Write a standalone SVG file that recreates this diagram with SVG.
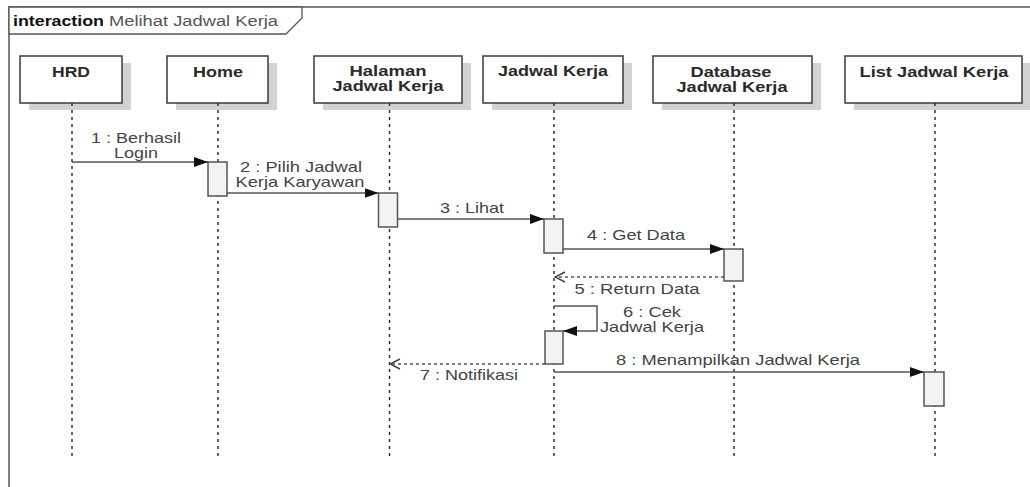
<svg xmlns="http://www.w3.org/2000/svg" width="1030" height="487" viewBox="0 0 1030 487">
  <style>
    .frame { fill: none; stroke: #555; stroke-width: 1.5; }
    .tab { fill: #fff; stroke: #555; stroke-width: 1.3; }
    .shadow { fill: #d2d2d2; }
    .head { fill: #fff; stroke: #3a3a3a; stroke-width: 1.5; }
    .hname { font-family: "Liberation Sans", Arial, sans-serif; font-size: 15px; font-weight: bold; fill: #2a2a2a; text-anchor: middle; }
    .life { stroke: #333; stroke-width: 1.5; stroke-dasharray: 3 4; fill: none; }
    .act { fill: #f3f3f3; stroke: #555; stroke-width: 1.5; }
    .msg { stroke: #555; stroke-width: 1.5; fill: none; }
    .ret { stroke: #555; stroke-width: 1.5; fill: none; stroke-dasharray: 3 3; }
    .lbl { font-family: "Liberation Sans", Arial, sans-serif; font-size: 15px; fill: #444; text-anchor: middle; }
    .kw { font-family: "Liberation Sans", Arial, sans-serif; font-size: 14px; font-weight: bold; fill: #111; }
    .title { font-family: "Liberation Sans", Arial, sans-serif; font-size: 14px; fill: #555; }
  </style>
  <defs>
    <marker id="sync" markerUnits="userSpaceOnUse" markerWidth="14" markerHeight="10" refX="14" refY="5" orient="auto">
      <path d="M0,0 L14,5 L0,10 z" fill="#111"/>
    </marker>
    <marker id="open" markerUnits="userSpaceOnUse" markerWidth="12" markerHeight="12" refX="11" refY="6" orient="auto">
      <path d="M1,1 L11,6 L1,11" fill="none" stroke="#444" stroke-width="1.4"/>
    </marker>
  </defs>

  <rect width="1030" height="487" fill="#fff"/>

  <!-- interaction frame -->
  <g id="frame">
    <rect class="frame" x="9" y="7" width="1040" height="500"/>
    <path class="tab" d="M9,7 L302,7 L302,18 L286,34 L9,34 z"/>
    <text class="kw" x="13" y="26" textLength="91" lengthAdjust="spacingAndGlyphs">interaction</text>
    <text class="title" x="109" y="26" textLength="169" lengthAdjust="spacingAndGlyphs">Melihat Jadwal Kerja</text>
  </g>

  <!-- lifelines -->
  <g id="hrd">
    <rect class="shadow" x="29" y="63" width="102" height="47"/>
    <rect class="head" x="20" y="56" width="102" height="47"/>
    <text class="hname" x="71" y="77" textLength="38" lengthAdjust="spacingAndGlyphs">HRD</text>
    <line class="life" x1="72" y1="103" x2="72" y2="460"/>
  </g>
  <g id="home">
    <rect class="shadow" x="176" y="63" width="101" height="47"/>
    <rect class="head" x="167" y="56" width="101" height="47"/>
    <text class="hname" x="218" y="77" textLength="50" lengthAdjust="spacingAndGlyphs">Home</text>
    <line class="life" x1="218" y1="103" x2="218" y2="460"/>
  </g>
  <g id="halaman-jadwal-kerja">
    <rect class="shadow" x="323" y="63" width="148" height="47"/>
    <rect class="head" x="314" y="56" width="148" height="47"/>
    <text class="hname" x="388" y="75.5" textLength="77" lengthAdjust="spacingAndGlyphs">Halaman</text>
    <text class="hname" x="388" y="90.5" textLength="111" lengthAdjust="spacingAndGlyphs">Jadwal Kerja</text>
    <line class="life" x1="389.5" y1="103" x2="389.5" y2="460"/>
  </g>
  <g id="jadwal-kerja">
    <rect class="shadow" x="492" y="63" width="140" height="47"/>
    <rect class="head" x="483" y="56" width="140" height="47"/>
    <text class="hname" x="553" y="76" textLength="110" lengthAdjust="spacingAndGlyphs">Jadwal Kerja</text>
    <line class="life" x1="554" y1="103" x2="554" y2="460"/>
  </g>
  <g id="database-jadwal-kerja">
    <rect class="shadow" x="662" y="63" width="159" height="47"/>
    <rect class="head" x="653" y="56" width="159" height="47"/>
    <text class="hname" x="731" y="76.5" textLength="81" lengthAdjust="spacingAndGlyphs">Database</text>
    <text class="hname" x="732" y="91.5" textLength="111" lengthAdjust="spacingAndGlyphs">Jadwal Kerja</text>
    <line class="life" x1="734" y1="103" x2="734" y2="460"/>
  </g>
  <g id="list-jadwal-kerja">
    <rect class="shadow" x="854" y="63" width="177" height="47"/>
    <rect class="head" x="845" y="56" width="177" height="47"/>
    <text class="hname" x="934" y="77" textLength="149" lengthAdjust="spacingAndGlyphs">List Jadwal Kerja</text>
    <line class="life" x1="935" y1="103" x2="935" y2="460"/>
  </g>

  <!-- execution specifications -->
  <g id="activations">
    <rect class="act" x="208" y="162" width="19" height="34"/>
    <rect class="act" x="378.5" y="193" width="19" height="34"/>
    <rect class="act" x="544" y="219" width="19" height="34"/>
    <rect class="act" x="724" y="249" width="19" height="32"/>
    <rect class="act" x="545" y="331" width="18" height="33"/>
    <rect class="act" x="924" y="372" width="20" height="34"/>
  </g>

  <!-- messages -->
  <g id="connectors">
    <line class="msg" x1="72" y1="162" x2="208" y2="162" marker-end="url(#sync)"/>
    <line class="msg" x1="227" y1="193" x2="378.5" y2="193" marker-end="url(#sync)"/>
    <line class="msg" x1="397.5" y1="219" x2="544" y2="219" marker-end="url(#sync)"/>
    <line class="msg" x1="563" y1="249" x2="724" y2="249" marker-end="url(#sync)"/>
    <line class="ret" x1="724" y1="277" x2="555" y2="277" marker-end="url(#open)"/>
    <polyline class="msg" points="554,306 597,306 597,331 563,331" marker-end="url(#sync)"/>
    <line class="ret" x1="545" y1="364" x2="390" y2="364" marker-end="url(#open)"/>
    <line class="msg" x1="554" y1="372" x2="924" y2="372" marker-end="url(#sync)"/>
  </g>

  <!-- message labels -->
  <g id="labels">
    <text class="lbl" x="136" y="142.5" textLength="90" lengthAdjust="spacingAndGlyphs">1 : Berhasil</text>
    <text class="lbl" x="136" y="157.5" textLength="44" lengthAdjust="spacingAndGlyphs">Login</text>
    <text class="lbl" x="301" y="171.5" textLength="122" lengthAdjust="spacingAndGlyphs">2 : Pilih Jadwal</text>
    <text class="lbl" x="300" y="186.5" textLength="129" lengthAdjust="spacingAndGlyphs">Kerja Karyawan</text>
    <text class="lbl" x="472" y="213" textLength="64" lengthAdjust="spacingAndGlyphs">3 : Lihat</text>
    <text class="lbl" x="636" y="240" textLength="98" lengthAdjust="spacingAndGlyphs">4 : Get Data</text>
    <text class="lbl" x="637" y="294" textLength="125" lengthAdjust="spacingAndGlyphs">5 : Return Data</text>
    <text class="lbl" x="652" y="316.5" textLength="58" lengthAdjust="spacingAndGlyphs">6 : Cek</text>
    <text class="lbl" x="652" y="331.5" textLength="104" lengthAdjust="spacingAndGlyphs">Jadwal Kerja</text>
    <text class="lbl" x="469" y="380" textLength="98" lengthAdjust="spacingAndGlyphs">7 : Notifikasi</text>
    <text class="lbl" x="738" y="365" textLength="244" lengthAdjust="spacingAndGlyphs">8 : Menampilkan Jadwal Kerja</text>
  </g>
</svg>
